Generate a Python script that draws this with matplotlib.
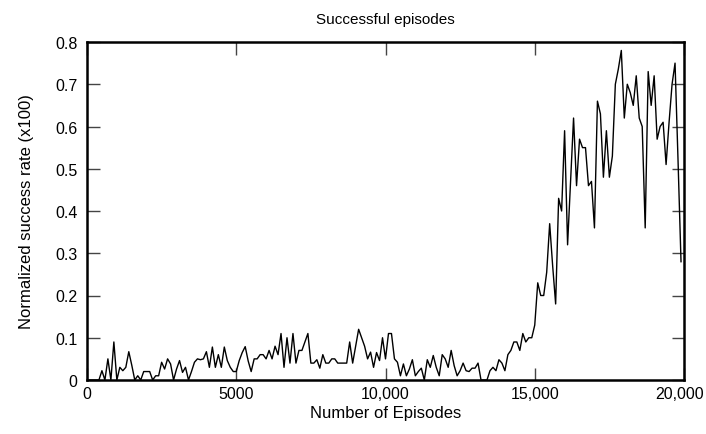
import numpy as np
import matplotlib
matplotlib.use("Agg")
import matplotlib.pyplot as plt
from matplotlib.ticker import FixedLocator, FixedFormatter
from matplotlib.transforms import ScaledTranslation

# Data: success rate sampled every 100 episodes
episodes = np.arange(0, 20000, 100)
success = [
    0, 0, 0, 0, 0, 0.022, 0, 0.05, 0, 0.09,
    0, 0.03, 0.022, 0.03, 0.067, 0.035, 0, 0.01, 0, 0.02,
    0.02, 0.02, 0, 0.01, 0.01, 0.042, 0.026, 0.05, 0.038, 0,
    0.026, 0.046, 0.018, 0.03, 0, 0.02, 0.042, 0.05, 0.048, 0.05,
    0.067, 0.03, 0.078, 0.03, 0.06, 0.03, 0.078, 0.046, 0.03, 0.02,
    0.02, 0.046, 0.065, 0.079, 0.045, 0.02, 0.05, 0.05, 0.06, 0.06,
    0.05, 0.07, 0.05, 0.08, 0.06, 0.11, 0.03, 0.10, 0.04, 0.11,
    0.04, 0.07, 0.07, 0.09, 0.11, 0.04, 0.04, 0.048, 0.028, 0.06,
    0.04, 0.04, 0.05, 0.05, 0.04, 0.04, 0.04, 0.04, 0.09, 0.04,
    0.08, 0.12, 0.10, 0.08, 0.05, 0.066, 0.03, 0.065, 0.046, 0.10,
    0.05, 0.11, 0.11, 0.05, 0.042, 0.01, 0.038, 0.01, 0.026, 0.048,
    0.01, 0.02, 0.028, 0, 0.048, 0.03, 0.058, 0.03, 0.01, 0.06,
    0.05, 0.03, 0.07, 0.034, 0.01, 0.022, 0.04, 0.022, 0.02, 0.028,
    0.028, 0.04, 0, 0, 0, 0.022, 0.03, 0.022, 0.048, 0.04,
    0.022, 0.06, 0.07, 0.09, 0.09, 0.07, 0.11, 0.09, 0.10, 0.10,
    0.13, 0.23, 0.20, 0.20, 0.255, 0.37, 0.27, 0.18, 0.43, 0.40,
    0.59, 0.32, 0.47, 0.62, 0.46, 0.57, 0.55, 0.55, 0.46, 0.47,
    0.36, 0.66, 0.63, 0.48, 0.59, 0.48, 0.53, 0.70, 0.736, 0.78,
    0.62, 0.70, 0.68, 0.65, 0.72, 0.62, 0.60, 0.36, 0.73, 0.65,
    0.72, 0.57, 0.60, 0.61, 0.51, 0.61, 0.70, 0.75, 0.52, 0.28,
]

x_ticks = [0, 5000, 10000, 15000, 20000]
x_tick_labels = ["0", "5000", "10,000", "15,000", "20,000"]
y_ticks = [0, 0.1, 0.2, 0.3, 0.4, 0.5, 0.6, 0.7, 0.8]
y_tick_labels = ["0", "0.1", "0.2", "0.3", "0.4", "0.5", "0.6", "0.7", "0.8"]

plt.rcParams['font.family'] = ['Liberation Sans', 'DejaVu Sans']

fig = plt.figure(figsize=(7.06, 4.35), dpi=100)
ax = fig.add_axes([87 / 706, 1 - 381 / 435, (684 - 87) / 706, (381 - 43) / 435])

ax.plot(episodes, success, color='black', linewidth=1.0)

ax.set_xlim(0, 20000)
ax.set_ylim(0, 0.8)
ax.xaxis.set_major_locator(FixedLocator(x_ticks))
ax.xaxis.set_major_formatter(FixedFormatter(x_tick_labels))
ax.yaxis.set_major_locator(FixedLocator(y_ticks))
ax.yaxis.set_major_formatter(FixedFormatter(y_tick_labels))

ax.tick_params(direction='in', length=9, width=1.0, color='#444444',
               top=True, right=True, labelsize=11.5)
ax.tick_params(axis='y', pad=7)
ax.tick_params(axis='x', pad=4)
for s in ax.spines.values():
    s.set_linewidth(1.8)
    s.set_color('black')

ax.set_xlabel("Number of Episodes", fontsize=12, labelpad=3)
ax.set_ylabel("Normalized success rate (x100)", fontsize=12, labelpad=15)
ax.set_title("Successful episodes", fontsize=11, pad=14)

# nudge the last x tick label slightly left so it stays inside the figure
fig.canvas.draw()
last = ax.xaxis.get_major_ticks()[-1].label1
last.set_transform(last.get_transform() + ScaledTranslation(-4 / 100, 0, fig.dpi_scale_trans))

fig.savefig("out.png", dpi=100)
